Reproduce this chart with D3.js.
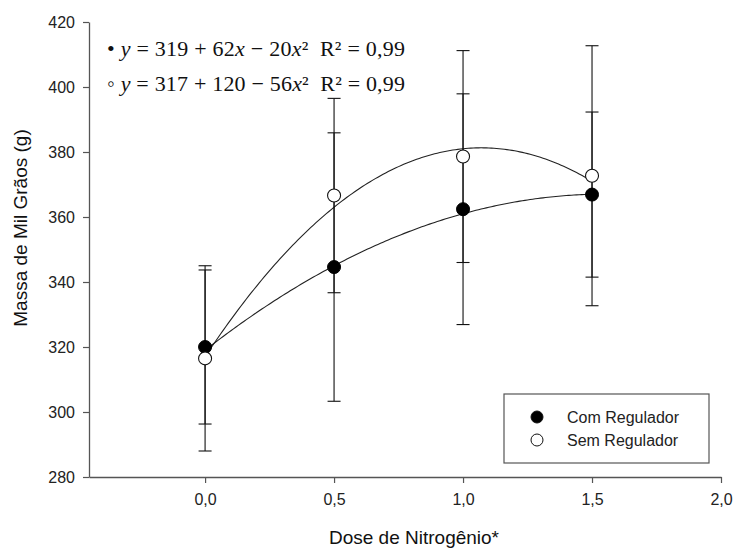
<!DOCTYPE html>
<html>
<head>
<meta charset="utf-8">
<script src="https://cdn.jsdelivr.net/npm/d3@7"></script>
<style>
  html, body { margin: 0; padding: 0; background: #fff; }
  svg { display: block; }
</style>
</head>
<body>
<svg id="chart" width="735" height="549"></svg>
<script>
// Nitrogen doses (x) and thousand-grain mass (g) for each treatment
const doses = [0.0, 0.5, 1.0, 1.5];
const comRegulador = [320.0, 344.6, 362.4, 366.9];
const comErro = [23.7, 41.3, 35.5, 25.4];
const semRegulador = [316.5, 366.6, 378.6, 372.7];
const semErro = [28.5, 29.9, 32.6, 40.0];

// Quadratic fits: [intercept, linear, quadratic]
const comFit = [319, 62, -20];
const semFit = [317, 120, -56];

const xTicks = [0.0, 0.5, 1.0, 1.5, 2.0];
const yTicks = [280, 300, 320, 340, 360, 380, 400, 420];
const seriesNames = ["Com Regulador", "Sem Regulador"];
const equations = [
  { mark: "•", a: "319", b: "62", bx: true, c: "20", r2: "0,99" },
  { mark: "◦", a: "317", b: "120", bx: false, c: "56", r2: "0,99" }
];

const svg = d3.select("#chart");
const axisColor = "#555";
const sans = "'Liberation Sans', Arial, sans-serif";
const serif = "'Liberation Serif', 'Times New Roman', serif";

const x = d3.scaleLinear().domain([-0.45, 2.0]).range([89, 721]);
const y = d3.scaleLinear().domain([280, 420]).range([477, 22]);

// Axes
const xAxis = d3.axisBottom(x).tickValues(xTicks).tickSize(6).tickSizeOuter(0)
  .tickFormat(d => d3.format(".1f")(d).replace(".", ","));
const yAxis = d3.axisLeft(y).tickValues(yTicks).tickSize(6).tickSizeOuter(0)
  .tickFormat(d3.format("d"));

const gx = svg.append("g").attr("transform", `translate(0,${y(280)})`).call(xAxis);
const gy = svg.append("g").attr("transform", `translate(${x(-0.45)},0)`).call(yAxis);
[gx, gy].forEach(g => {
  g.select(".domain").attr("stroke", axisColor).attr("stroke-width", 1.3);
  g.selectAll(".tick line").attr("stroke", axisColor).attr("stroke-width", 1.2);
  g.selectAll(".tick text").attr("fill", "#222").style("font-family", sans).style("font-size", "16px");
});
gx.selectAll(".tick text").attr("dy", "1.2em");
gy.selectAll(".tick text").attr("x", -14).attr("dy", "0.36em");

// Axis titles
svg.append("text")
  .attr("x", 414).attr("y", 544)
  .attr("text-anchor", "middle")
  .style("font-family", sans).style("font-size", "19px").attr("fill", "#111")
  .text("Dose de Nitrogênio*");
svg.append("text")
  .attr("transform", `translate(27,228) rotate(-90)`)
  .attr("text-anchor", "middle")
  .style("font-family", sans).style("font-size", "19px").attr("fill", "#111")
  .text("Massa de Mil Grãos (g)");

// Fitted curves
const curveX = d3.range(0, 1.5001, 0.01);
const poly = (c, v) => c[0] + c[1] * v + c[2] * v * v;
const line = d3.line().x(d => x(d[0])).y(d => y(d[1])).curve(d3.curveLinear);
[comFit, semFit].forEach(c => {
  svg.append("path")
    .datum(curveX.map(v => [v, poly(c, v)]))
    .attr("d", line)
    .attr("fill", "none").attr("stroke", "#222").attr("stroke-width", 1.1);
});

// Error bars
const capHalf = 6.5;
function errorBars(vals, errs) {
  const g = svg.append("g").attr("stroke", "#111").attr("stroke-width", 1.1);
  doses.forEach((d, i) => {
    const lo = vals[i] - errs[i], hi = vals[i] + errs[i];
    g.append("line").attr("x1", x(d)).attr("x2", x(d)).attr("y1", y(lo)).attr("y2", y(hi));
    g.append("line").attr("x1", x(d) - capHalf).attr("x2", x(d) + capHalf).attr("y1", y(lo)).attr("y2", y(lo));
    g.append("line").attr("x1", x(d) - capHalf).attr("x2", x(d) + capHalf).attr("y1", y(hi)).attr("y2", y(hi));
  });
}
errorBars(comRegulador, comErro);
errorBars(semRegulador, semErro);

// Points
svg.append("g").selectAll("circle").data(doses).join("circle")
  .attr("cx", d => x(d)).attr("cy", (d, i) => y(comRegulador[i])).attr("r", 6.5)
  .attr("fill", "#000").attr("stroke", "#000");
svg.append("g").selectAll("circle").data(doses).join("circle")
  .attr("cx", d => x(d)).attr("cy", (d, i) => y(semRegulador[i])).attr("r", 6.5)
  .attr("fill", "#fff").attr("stroke", "#111").attr("stroke-width", 1.1);

// Regression equations
equations.forEach((e, i) => {
  const t = svg.append("text")
    .attr("x", 107).attr("y", 56 + i * 35)
    .attr("xml:space", "preserve")
    .attr("textLength", 298).attr("lengthAdjust", "spacing")
    .style("white-space", "pre")
    .style("font-family", serif).style("font-size", "22px").attr("fill", "#111");
  t.append("tspan").text(e.mark + " ");
  t.append("tspan").style("font-style", "italic").text("y");
  t.append("tspan").text(` = ${e.a} + ${e.b}`);
  if (e.bx) t.append("tspan").style("font-style", "italic").text("x");
  t.append("tspan").text(` − ${e.c}`);
  t.append("tspan").style("font-style", "italic").text("x");
  t.append("tspan").text("²\u00a0\u00a0R² = " + e.r2);
});

// Legend
const lg = svg.append("g");
lg.append("rect").attr("x", 504).attr("y", 394).attr("width", 205).attr("height", 69)
  .attr("fill", "#fff").attr("stroke", axisColor).attr("stroke-width", 1.2);
seriesNames.forEach((name, i) => {
  const cy = 417 + i * 23;
  lg.append("circle").attr("cx", 537).attr("cy", cy).attr("r", 6)
    .attr("fill", i === 0 ? "#000" : "#fff").attr("stroke", "#111").attr("stroke-width", 1);
  lg.append("text").attr("x", 567).attr("y", cy).attr("dy", "0.36em")
    .style("font-family", sans).style("font-size", "16px").attr("fill", "#222")
    .text(name);
});
</script>
</body>
</html>
